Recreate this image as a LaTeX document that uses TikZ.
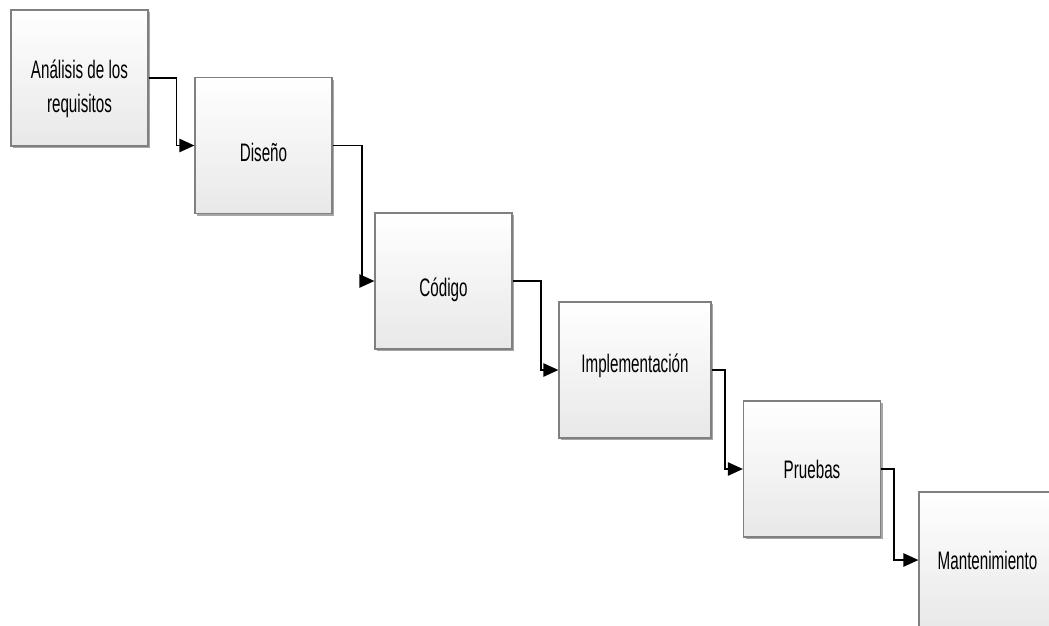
\documentclass[tikz,border=0pt]{standalone}
\usepackage{fontspec}
\setmainfont[FakeStretch=0.6]{Liberation Sans}
\usetikzlibrary{arrows.meta,shadows}

\begin{document}
\begin{tikzpicture}
[x=0.025cm, y=-0.025cm,
every node/.style={draw=black!50, line width=0.8pt, top color=white, bottom color=black!9,
  minimum width=3.425cm, minimum height=3.4cm, align=center,
  font=\fontsize{18}{24.5}\selectfont,
  drop shadow={shadow xshift=1.5pt, shadow yshift=-1.5pt, fill=black, opacity=0.35}},
flow/.style={draw=black, line width=1.3pt, -{Triangle[length=0.375cm, width=0.33cm]}},
]
\useasboundingbox (0,0) rectangle (1049,625);
\clip (0,0) rectangle (1049,625);

\node (req) at (79.5,78) {\raisebox{-0.27cm}[\height][\depth]{\begin{tabular}{@{}c@{}}Análisis de los\\requisitos\end{tabular}}};
\node (dis) at (263.5,145.5) {\raisebox{-0.18cm}[\height][\depth]{Diseño}};
\node (cod) at (443.5,281) {\raisebox{-0.22cm}[\height][\depth]{Código}};
\node[minimum width=3.8cm] (imp) at (635,370) {\raisebox{0.1cm}[\height][\depth]{Implementación}};
\node (pru) at (812,469) {Pruebas};
\node (man) at (987.5,560) {Mantenimiento};

\draw[flow] (req.east) -- ++(28,0) |- (dis.west);
\draw[flow] (dis.east) -- ++(29,0) |- (cod.west);
\draw[flow] (cod.east) -- ++(28,0) |- (imp.west);
\draw[flow] (imp.east) -- ++(13,0) |- (pru.west);
\draw[flow] (pru.east) -- ++(13,0) |- (man.west);
\end{tikzpicture}
\end{document}
